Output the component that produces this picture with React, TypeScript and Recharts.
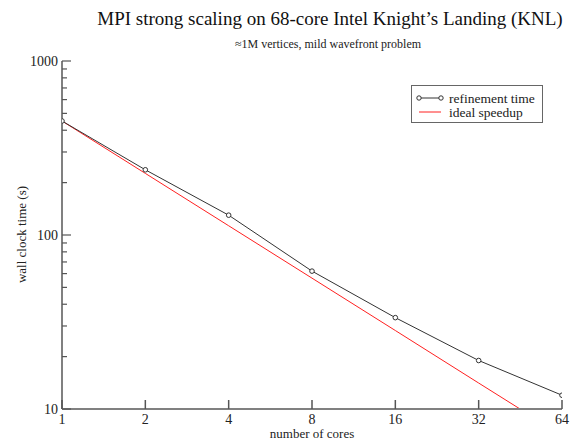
import React from 'react';
import { LineChart, Line, XAxis, YAxis, Legend } from 'recharts';

const cores = [1, 2, 4, 8, 16, 32, 64];
const refinementTime = [452, 237, 130, 62, 33.5, 19, 12];
const idealSpeedup = [452, 226, 113, 56.5, 28.25, 14.1, 7.06];
const xTicks = [1, 2, 4, 8, 16, 32, 64];
const yTicks = [10, 20, 30, 40, 50, 60, 70, 80, 90, 100, 200, 300, 400, 500, 600, 700, 800, 900, 1000];
const yMajor = [10, 100, 1000];

const TITLE = 'MPI strong scaling on 68-core Intel Knight\u2019s Landing (KNL)';
const SUBTITLE = '\u22481M vertices, mild wavefront problem';

const data = cores.map((c, i) => ({ cores: c, refinement: refinementTime[i], ideal: idealSpeedup[i] }));

const FONT = '"Liberation Serif", "DejaVu Serif", serif';
const TICK_COLOR = '#555';
const FRAME = '#808080';

const BottomTick = (props: any) => {
  const { x, y, payload } = props;
  return (
    <g>
      <line x1={x} y1={y} x2={x} y2={y - 9} stroke={TICK_COLOR} strokeWidth={1.5} />
      <text x={x} y={y + 15} textAnchor="middle" fontFamily={FONT} fontSize={14} fill="#222">
        {payload.value}
      </text>
    </g>
  );
};

const TopTick = (props: any) => {
  const { x, y } = props;
  return <line x1={x} y1={y} x2={x} y2={y + 9} stroke={TICK_COLOR} strokeWidth={1.5} />;
};

const LeftTick = (props: any) => {
  const { x, y, payload } = props;
  const major = yMajor.includes(payload.value);
  return (
    <g>
      <line x1={x} y1={y} x2={x + (major ? 9 : 5)} y2={y} stroke={TICK_COLOR} strokeWidth={1.2} />
      {major && (
        <text x={x - 4} y={y + 5} textAnchor="end" fontFamily={FONT} fontSize={14} fill="#222">
          {payload.value}
        </text>
      )}
    </g>
  );
};

const RightTick = (props: any) => {
  const { x, y, payload } = props;
  const major = yMajor.includes(payload.value);
  return <line x1={x} y1={y} x2={x - (major ? 9 : 5)} y2={y} stroke={TICK_COLOR} strokeWidth={1.2} />;
};

const LegendBox = () => (
  <div
    style={{
      border: '1.5px solid #666',
      background: '#fff',
      width: 132,
      height: 38,
      boxSizing: 'border-box',
      position: 'relative',
    }}
  >
    <svg width={132} height={38} style={{ position: 'absolute', left: -1.5, top: -1.5 }}>
      <line x1={8} y1={13} x2={30} y2={13} stroke="#333" strokeWidth={1} />
      <circle cx={8} cy={13} r={2.2} fill="#fff" stroke="#333" strokeWidth={1} />
      <circle cx={30} cy={13} r={2.2} fill="#fff" stroke="#333" strokeWidth={1} />
      <line x1={8} y1={27} x2={30} y2={27} stroke="#ff2020" strokeWidth={1} />
      <text x={38} y={17.5} fontFamily={FONT} fontSize={13.5} fill="#222">refinement time</text>
      <text x={38} y={31.5} fontFamily={FONT} fontSize={13.5} fill="#222">ideal speedup</text>
    </svg>
  </div>
);

export default function App() {
  return (
    <div style={{ position: 'absolute', left: 0, top: 0, width: 571, height: 440, background: '#fff', overflow: 'hidden' }}>
      <div
        style={{
          position: 'absolute', left: 0, width: 660, top: 8, textAlign: 'center',
          fontFamily: FONT, fontSize: 19, color: '#111', lineHeight: '22px', whiteSpace: 'nowrap',
        }}
      >
        {TITLE}
      </div>
      <div
        style={{
          position: 'absolute', left: 0, width: 656, top: 37, textAlign: 'center',
          fontFamily: FONT, fontSize: 12, color: '#222', lineHeight: '14px', whiteSpace: 'nowrap',
        }}
      >
        {SUBTITLE}
      </div>
      <LineChart
        width={571}
        height={440}
        data={data}
        margin={{ top: 61, right: 9, bottom: 0, left: 0 }}
        style={{ position: 'absolute', left: 0, top: 0 }}
      >
        <XAxis
          xAxisId="bottom"
          dataKey="cores"
          type="number"
          scale="log"
          domain={[1, 64]}
          ticks={xTicks}
          interval={0}
          allowDataOverflow
          height={31}
          tickSize={0}
          tickMargin={0}
          tickLine={false}
          axisLine={{ stroke: FRAME, strokeWidth: 2 }}
          tick={<BottomTick />}
        />
        <XAxis
          xAxisId="top"
          orientation="top"
          type="number"
          scale="log"
          domain={[1, 64]}
          ticks={xTicks}
          interval={0}
          allowDataOverflow
          height={0}
          tickSize={0}
          tickMargin={0}
          tickLine={false}
          axisLine={{ stroke: FRAME, strokeWidth: 2 }}
          tick={<TopTick />}
        />
        <YAxis
          yAxisId="left"
          type="number"
          scale="log"
          domain={[10, 1000]}
          ticks={yTicks}
          interval={0}
          allowDataOverflow
          width={62}
          tickSize={0}
          tickMargin={0}
          tickLine={false}
          axisLine={{ stroke: FRAME, strokeWidth: 2 }}
          tick={<LeftTick />}
        />
        <YAxis
          yAxisId="right"
          orientation="right"
          type="number"
          scale="log"
          domain={[10, 1000]}
          ticks={yTicks}
          interval={0}
          allowDataOverflow
          width={0}
          tickSize={0}
          tickMargin={0}
          tickLine={false}
          axisLine={{ stroke: FRAME, strokeWidth: 2 }}
          tick={<RightTick />}
        />
        <Legend
          layout="vertical"
          align="center"
          verticalAlign="middle"
          content={<LegendBox />}
          wrapperStyle={{ position: 'absolute', left: 411, top: 85, width: 132, height: 38 }}
        />
        <Line
          xAxisId="bottom"
          yAxisId="left"
          type="linear"
          dataKey="ideal"
          name="ideal speedup"
          stroke="#ff2020"
          strokeWidth={1}
          dot={false}
          isAnimationActive={false}
        />
        <Line
          xAxisId="bottom"
          yAxisId="left"
          type="linear"
          dataKey="refinement"
          name="refinement time"
          stroke="#333"
          strokeWidth={1}
          dot={{ r: 2.3, fill: '#fff', stroke: '#333', strokeWidth: 1 }}
          isAnimationActive={false}
        />
      </LineChart>
      <div
        style={{
          position: 'absolute', left: 212, width: 200, top: 428, textAlign: 'center',
          fontFamily: FONT, fontSize: 13, color: '#222', lineHeight: '12px', whiteSpace: 'nowrap',
        }}
      >
        number of cores
      </div>
      <div
        style={{
          position: 'absolute', left: 21 - 70, top: 235 - 8, width: 140, textAlign: 'center',
          fontFamily: FONT, fontSize: 13, color: '#222', lineHeight: '15px',
          transform: 'rotate(-90deg)', whiteSpace: 'nowrap',
        }}
      >
        wall clock time (s)
      </div>
    </div>
  );
}
